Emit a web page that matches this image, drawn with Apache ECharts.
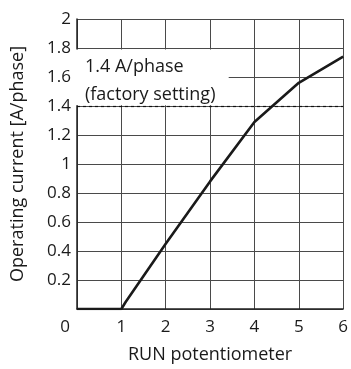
<!DOCTYPE html>
<html>
<head>
<meta charset="utf-8">
<script src="https://cdn.jsdelivr.net/npm/echarts@6/dist/echarts.min.js"></script>
<style>
html,body{margin:0;padding:0;background:#fff;}
#c{width:351px;height:369px;}
</style>
</head>
<body>
<div id="c"></div>
<script>
// RUN potentiometer positions and operating current values (A/phase)
var potPositions = [0, 1, 1.1, 2, 3, 4, 5, 6];
var currentValues = [0, 0, 0.05, 0.45, 0.88, 1.29, 1.56, 1.74];
var factorySetting = 1.4;
var xTicks = [0, 1, 2, 3, 4, 5, 6];
var yTicks = [0.2, 0.4, 0.6, 0.8, 1, 1.2, 1.4, 1.6, 1.8, 2];
var annotationLines = ['1.4 A/phase', '(factory setting)'];

var FONT = '"Open Sans", sans-serif';
var TXT = '#1a1a1a';
var chart = echarts.init(document.getElementById('c'), null, {renderer: 'canvas'});

var lineData = potPositions.map(function (x, i) { return [x, currentValues[i]]; });

var option = {
  animation: false,
  backgroundColor: '#fff',
  grid: {left: 77, right: 7, top: 19, bottom: 55, containLabel: false},
  xAxis: {
    type: 'value', min: 0, max: 6, interval: 1,
    name: 'RUN potentiometer', nameLocation: 'middle', nameGap: 37,
    nameTextStyle: {fontFamily: FONT, fontSize: 18, color: TXT},
    axisLine: {show: true, lineStyle: {color: '#222', width: 1.5}},
    axisTick: {show: false},
    axisLabel: {
      margin: 10, fontFamily: FONT, fontSize: 17, color: TXT,
      formatter: function (v) { return v === 0 ? '{z|0}' : String(v); },
      rich: {z: {fontFamily: FONT, fontSize: 17, color: TXT, padding: [0, 24, 0, 0]}}
    },
    splitLine: {show: true, lineStyle: {color: '#4a4a4a', width: 1}}
  },
  yAxis: {
    type: 'value', min: 0, max: 2, interval: 0.2,
    name: 'Operating current [A/phase]', nameLocation: 'middle', nameGap: 50,
    nameTextStyle: {fontFamily: FONT, fontSize: 18, color: TXT},
    axisLine: {show: true, lineStyle: {color: '#222', width: 1.5}},
    axisTick: {show: false},
    axisLabel: {
      margin: 6, fontFamily: FONT, fontSize: 17, color: TXT,
      formatter: function (v) {
        if (v === 0) return '';
        var r = Math.round(v * 10) / 10;
        return yTicks.indexOf(r) >= 0 ? String(r) : '';
      }
    },
    splitLine: {show: true, lineStyle: {color: '#4a4a4a', width: 1}}
  },
  series: [{
    type: 'line',
    data: lineData,
    symbol: 'none',
    lineStyle: {color: '#1a1a1a', width: 2.6},
    z: 5,
    markLine: {
      silent: true,
      symbol: 'none',
      label: {show: false},
      lineStyle: {color: '#111', width: 1.2, type: [3, 3]},
      data: [{yAxis: factorySetting}],
      z: 6
    }
  }]
};
chart.setOption(option);

// annotation box (white backdrop) anchored in data space
var p1 = chart.convertToPixel({gridIndex: 0}, [0, 1.79]);
var p2 = chart.convertToPixel({gridIndex: 0}, [3.42, 1.405]);
var t1 = chart.convertToPixel({gridIndex: 0}, [0.18, 1.79]);
chart.setOption({
  graphic: [
    {type: 'rect', z: 3, silent: true,
     shape: {x: p1[0] - 3, y: p1[1], width: p2[0] - p1[0] + 3, height: p2[1] - p1[1]},
     style: {fill: '#fff'}},
    {type: 'text', z: 4, silent: true, x: t1[0], y: t1[1] + 3,
     style: {text: annotationLines.join('\n'), font: '18px ' + FONT, fill: TXT,
             lineHeight: 28, textVerticalAlign: 'top'}}
  ]
});
</script>
</body>
</html>
